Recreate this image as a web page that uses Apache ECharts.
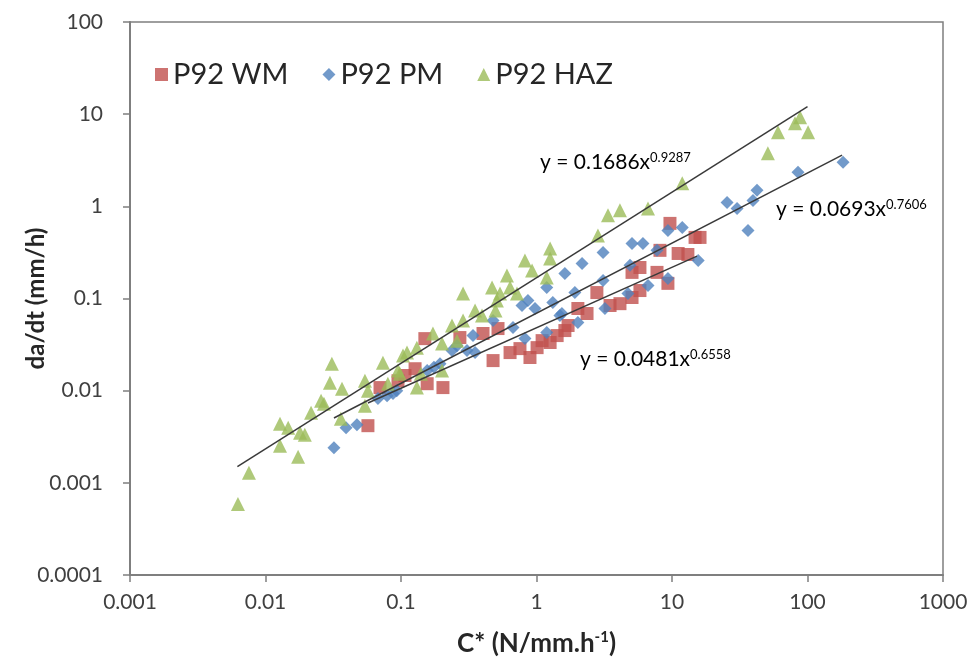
<!DOCTYPE html>
<html>
<head>
<meta charset="utf-8">
<script src="https://cdn.jsdelivr.net/npm/echarts@6/dist/echarts.min.js"></script>
<style>
html,body{margin:0;padding:0;background:#fff;}
#chart{width:976px;height:661px;}
</style>
</head>
<body>
<div id="chart"></div>
<script>
const seriesNames = ['P92 WM', 'P92 PM', 'P92 HAZ'];
const xTickLabels = ['0.001', '0.01', '0.1', '1', '10', '100', '1000'];
const yTickLabels = ['0.0001', '0.001', '0.01', '0.1', '1', '10', '100'];

const wmData = [
  [0.057, 0.00417], [0.07, 0.0108], [0.095, 0.0128], [0.107, 0.0146], [0.127, 0.0173],
  [0.15, 0.0367], [0.156, 0.0119], [0.204, 0.0108], [0.272, 0.0377], [0.403, 0.0417],
  [0.52, 0.0472], [0.478, 0.0212], [0.638, 0.0259], [0.755, 0.0286], [0.895, 0.0229],
  [1.01, 0.0293], [1.1, 0.0349], [1.26, 0.0333], [1.42, 0.0396], [1.62, 0.0449],
  [1.71, 0.0509], [2.02, 0.0779], [2.36, 0.0687], [2.79, 0.116], [3.49, 0.0839],
  [4.13, 0.0879], [5.07, 0.1026], [5.8, 0.122], [5.07, 0.192], [5.8, 0.217],
  [7.75, 0.192], [9.33, 0.146], [8.15, 0.333], [9.66, 0.653], [11.1, 0.308],
  [13.1, 0.3], [14.8, 0.46], [16.1, 0.46]
];
const pmData = [
  [0.032, 0.0024], [0.0393, 0.00396], [0.0473, 0.00427], [0.0676, 0.0082], [0.0789, 0.0088],
  [0.0873, 0.0093], [0.093, 0.01], [0.156, 0.0165], [0.175, 0.018], [0.194, 0.0196],
  [0.238, 0.0272], [0.259, 0.0308], [0.307, 0.0272], [0.34, 0.0396], [0.352, 0.0259],
  [0.478, 0.0577], [0.671, 0.0484], [0.822, 0.0367], [0.782, 0.0839], [0.865, 0.095],
  [0.975, 0.0779], [1.19, 0.132], [1.32, 0.0905], [1.62, 0.187], [1.49, 0.0653],
  [1.19, 0.0427], [2.17, 0.24], [3.1, 0.316], [1.92, 0.116], [3.1, 0.157],
  [1.54, 0.0687], [2.02, 0.0548], [3.2, 0.0779], [5.07, 0.396], [6.1, 0.396],
  [4.9, 0.229], [7.75, 0.333], [9.33, 0.548], [4.73, 0.113], [6.65, 0.138],
  [9.33, 0.165], [11.9, 0.591], [15.6, 0.259], [25.5, 1.1], [30.2, 0.95],
  [39.6, 1.16], [42.4, 1.49], [36.4, 0.548], [85.1, 2.34], [183, 3.01]
];
const hazData = [
  [0.00626, 0.00059], [0.00755, 0.00129], [0.0128, 0.00252], [0.0174, 0.00192], [0.0128, 0.00438],
  [0.0147, 0.00396], [0.018, 0.00349], [0.0195, 0.00333], [0.0217, 0.00577], [0.0257, 0.00778],
  [0.027, 0.00722], [0.0299, 0.0122], [0.0309, 0.0196], [0.0367, 0.0105], [0.036, 0.00497],
  [0.0542, 0.0128], [0.0542, 0.00687], [0.057, 0.01], [0.0736, 0.0201], [0.08, 0.0119],
  [0.095, 0.0165], [0.1035, 0.024], [0.1107, 0.0259], [0.131, 0.0293], [0.172, 0.0417],
  [0.201, 0.0324], [0.238, 0.0509], [0.287, 0.113], [0.287, 0.0577], [0.259, 0.0349],
  [0.131, 0.0108], [0.14, 0.0153], [0.098, 0.0153], [0.201, 0.0165], [0.352, 0.074],
  [0.396, 0.0653], [0.47, 0.132], [0.51, 0.095], [0.538, 0.113], [0.605, 0.178],
  [0.638, 0.132], [0.718, 0.113], [0.498, 0.074], [0.822, 0.259], [0.927, 0.201],
  [1.26, 0.349], [1.26, 0.272], [1.19, 0.169], [3.37, 0.798], [4.13, 0.905],
  [6.65, 0.95], [2.84, 0.484], [11.9, 1.78], [51, 3.77], [60.6, 6.37],
  [80.9, 7.98], [88.1, 9.27], [101, 6.37]
];

// trendline end points
const wmTrend = [[0.057, 0.00735], [15.3, 0.288]];
const pmTrend = [[0.032, 0.00505], [180, 3.6]];
const hazTrend = [[0.0062, 0.0015], [100, 12.1]];

const trendTexts = [
  { base: 'y = 0.1686x', sup: '0.9287' },
  { base: 'y = 0.0693x', sup: '0.7606' },
  { base: 'y = 0.0481x', sup: '0.6558' }
];

const colors = ['#C0504D', '#4F81BD', '#9BBB59'];
const FONT = 'Lato, "Open Sans", sans-serif';

const chart = echarts.init(document.getElementById('chart'));

function fmt(v, list) {
  const e = Math.round(Math.log10(v));
  const idx = list.findIndex(s => Math.round(Math.log10(parseFloat(s))) === e);
  return idx >= 0 ? list[idx] : '';
}

function trendSeries(data) {
  return {
    type: 'line', data: data, symbol: 'none', silent: true,
    lineStyle: { color: '#3a3a3a', width: 1.5 }, z: 5, legendHoverLink: false
  };
}

const textRich = {
  a: { fontSize: 21, color: '#404040', fontFamily: FONT },
  s: { fontSize: 13, color: '#404040', fontFamily: FONT, verticalAlign: 'top', padding: [0, 0, 10, 0] }
};

const option = {
  backgroundColor: '#fff',
  animation: false,
  grid: { left: 130, right: 33, top: 22, bottom: 86, show: true, borderColor: '#7f7f7f', borderWidth: 1.5, outerBoundsMode: 'none', containLabel: false },
  legend: {
    data: [
      { name: seriesNames[0], icon: 'rect' },
      { name: seriesNames[1], icon: 'diamond' },
      { name: seriesNames[2], icon: 'triangle' }
    ],
    left: 150, top: 55, itemWidth: 13, itemHeight: 13, itemGap: 34,
    textStyle: { fontSize: 29, color: '#262626', fontFamily: FONT }
  },
  xAxis: {
    type: 'log', logBase: 10, min: 0.001, max: 1000,
    name: '{a|C* (N/mm.h}{s|-1}{a|)}',
    nameLocation: 'middle', nameGap: 55, nameMoveOverlap: false,
    nameTextStyle: {
      rich: {
        a: { fontSize: 26, fontWeight: 'bold', color: '#262626', fontFamily: FONT },
        s: { fontSize: 15, fontWeight: 'bold', color: '#262626', fontFamily: FONT, verticalAlign: 'top', padding: [0, 0, 12, 0] }
      }
    },
    axisLine: { show: true, lineStyle: { color: '#7f7f7f', width: 2 } },
    axisTick: { show: true, inside: false, length: 7, lineStyle: { color: '#7f7f7f', width: 1.5 } },
    minorTick: { show: false },
    splitLine: { show: false },
    axisLabel: { fontSize: 21, color: '#404040', fontFamily: FONT, margin: 17, formatter: v => fmt(v, xTickLabels) }
  },
  yAxis: {
    type: 'log', logBase: 10, min: 0.0001, max: 100,
    name: 'da/dt (mm/h)',
    nameLocation: 'middle', nameGap: 82, nameRotate: 90, nameMoveOverlap: false,
    nameTextStyle: { fontSize: 24, fontWeight: 'bold', color: '#262626', fontFamily: FONT },
    axisLine: { show: true, lineStyle: { color: '#7f7f7f', width: 2 } },
    axisTick: { show: true, inside: false, length: 7, lineStyle: { color: '#7f7f7f', width: 1.5 } },
    splitLine: { show: false },
    axisLabel: { fontSize: 21, color: '#404040', fontFamily: FONT, margin: 27, formatter: v => fmt(v, yTickLabels) }
  },
  series: [
    { name: seriesNames[0], type: 'scatter', symbol: 'rect', symbolSize: 13, data: wmData, itemStyle: { color: colors[0] }, z: 2 },
    { name: seriesNames[1], type: 'scatter', symbol: 'diamond', symbolSize: 13, data: pmData, itemStyle: { color: colors[1] }, z: 3 },
    { name: seriesNames[2], type: 'scatter', symbol: 'triangle', symbolSize: 14, data: hazData, itemStyle: { color: colors[2] }, z: 4 },
    trendSeries(hazTrend),
    trendSeries(pmTrend),
    trendSeries(wmTrend)
  ],
  graphic: [
    { type: 'text', left: 540, top: 151, style: { text: '{a|' + trendTexts[0].base + '}{s|' + trendTexts[0].sup + '}', rich: textRich } },
    { type: 'text', left: 776, top: 198, style: { text: '{a|' + trendTexts[1].base + '}{s|' + trendTexts[1].sup + '}', rich: textRich } },
    { type: 'text', left: 580, top: 348, style: { text: '{a|' + trendTexts[2].base + '}{s|' + trendTexts[2].sup + '}', rich: textRich } }
  ]
};
chart.setOption(option);
</script>
</body>
</html>
